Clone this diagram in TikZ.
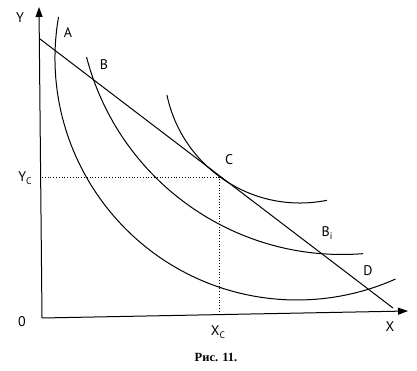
\documentclass[tikz,border=0pt]{standalone}
\usepackage{fontspec}
\setmainfont{PT Sans}
\newfontfamily\capfont{Liberation Serif}
\usetikzlibrary{arrows.meta}
\newcommand{\sbs}[1]{\raisebox{-3pt}{\fontsize{9.5}{10}\selectfont #1}}
\begin{document}
\begin{tikzpicture}[x=1pt,y=1pt,
  axis/.style={line width=1pt,-{Triangle[length=10pt,width=7pt]}},
  curve/.style={line width=1pt},
  guide/.style={line width=0.8pt,dotted},
  lbl/.style={inner sep=0pt,font=\fontsize{14}{16}\selectfont}]
\useasboundingbox (0,0) rectangle (417,371);
\coordinate (O) at (42,53);
\coordinate (Ytip) at (39,364);
\coordinate (Xtip) at (408,60);
\draw[axis] (O) -- (Ytip);
\draw[axis] (O) -- (Xtip);
% budget line
\coordinate (L1) at (40,332);
\coordinate (L2) at (393,63);
\draw[curve] (L1) -- (L2);
% dotted guides
\coordinate (Yc) at (42,194);
\coordinate (Cp) at (219,194);
\coordinate (Xc) at (219,56);
\draw[guide] (Yc) -- (Cp) -- (Xc);
% indifference curves (circular arcs)
\draw[curve] (297,313) ++(170.2:242) arc[start angle=170.2,end angle=294,radius=242];
\draw[curve] (342,380.5) ++(194.6:264) arc[start angle=194.6,end angle=274.6,radius=264];
\draw[curve] (300,304) ++(191.9:136) arc[start angle=191.9,end angle=281.4,radius=136];
% labels
\node[lbl] (lY) at (20,353) {Y};
\node[lbl] (lA) at (68,338) {A};
\node[lbl] (lB) at (104,306) {B};
\node[lbl] (lC) at (229,211) {C};
\node[lbl] (lBi) at (327,138) {B\sbs{i}};
\node[lbl] (lD) at (368,100) {D};
\node[lbl] (lX) at (390,44) {X};
\node[lbl] (l0) at (22,49) {0};
\node[lbl] (lYc) at (25,193) {Y\sbs{C}};
\node[lbl] (lXc) at (218,39) {X\sbs{C}};
\node[inner sep=0pt,font=\capfont\bfseries\fontsize{12.5}{14}\selectfont] (cap) at (216,14) {Рис. 11.};
\end{tikzpicture}
\end{document}
